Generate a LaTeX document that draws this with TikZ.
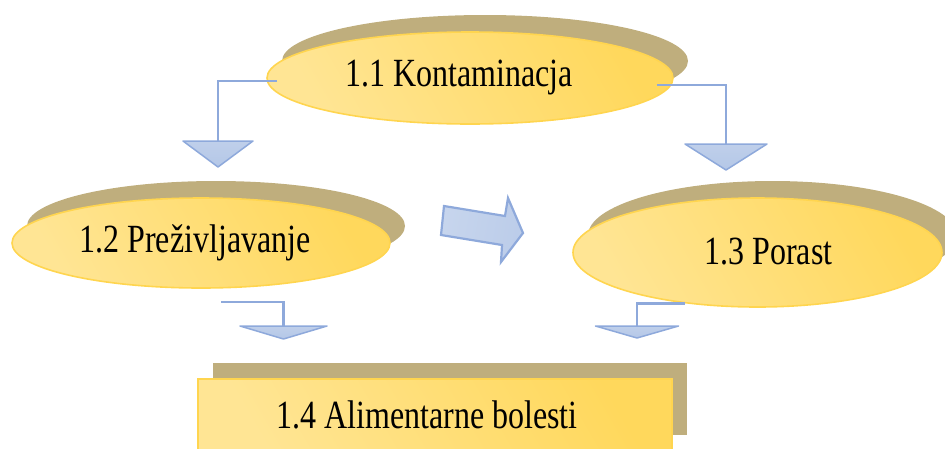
\documentclass[tikz,border=0pt]{standalone}
\usepackage{fontspec}
\setmainfont{Liberation Serif}
\usepackage{graphicx}
\usetikzlibrary{shapes.geometric,shadows}
\definecolor{shadowtan}{HTML}{BFAE7D}
\definecolor{goldline}{HTML}{FFD54F}
\definecolor{goldlight}{HTML}{FFF4D2}
\definecolor{goldmid}{HTML}{FFE594}
\definecolor{golddark}{HTML}{FFD85C}
\definecolor{blueline}{HTML}{8EA9DB}
\definecolor{bluefill}{HTML}{B4C7E7}
\definecolor{bluelight}{HTML}{DFE7F6}
\newcommand{\tallText}[1]{\scalebox{1}[1.25]{#1}}
\begin{document}
\begin{tikzpicture}[x=1pt,y=-1pt,
  goldfill/.style={draw=goldline, line width=1.6pt, left color=goldmid, middle color=goldlight, right color=golddark, shading angle=120},
  oval/.style={ellipse, goldfill, inner sep=0pt, font=\fontsize{32}{38}\selectfont,
     general shadow={fill=shadowtan, shadow xshift=15pt, shadow yshift=17pt}},
  box/.style={rectangle, goldfill, inner sep=0pt, font=\fontsize{32}{38}\selectfont,
     general shadow={fill=shadowtan, shadow xshift=15pt, shadow yshift=16pt}},
  conn/.style={draw=blueline, line width=2.7pt},
  tri/.style={draw=blueline, line width=1.5pt, line join=round, top color=bluefill!85!white, bottom color=bluefill},
  blockarrow/.style={draw=blueline, line width=2.2pt, line join=miter, left color=bluefill!75!white, middle color=bluelight, right color=bluefill!90!white, shading angle=80}
]
\useasboundingbox (0,0) rectangle (945,448);

% main shapes
\node[oval, minimum width=406pt, minimum height=92pt] (n11) at (470,78)
  {\tallText{1.1 Kontaminacja}\hspace*{22pt}};
\node[oval, minimum width=378pt, minimum height=90pt] (n12) at (201,243)
  {\tallText{1.2 Preživljavanje}\hspace*{12pt}};
\node[oval, minimum width=369pt, minimum height=109pt] (n13) at (757.5,252.5)
  {\hspace*{22pt}\raisebox{3pt}{\tallText{1.3 Porast}}};
\node[box, minimum width=474pt, minimum height=72pt] (n14) at (435,415)
  {\tallText{1.4 Alimentarne bolesti}\hspace*{16pt}};

% arrow heads positions
\coordinate (t1) at (218,141);
\coordinate (t2) at (726,144);
\coordinate (s3) at (221,302);
\coordinate (t3) at (283.5,326);
\coordinate (t4) at (637,326);

% connectors
\draw[conn] ([xshift=11pt,yshift=-3pt]n11.west) -| (t1);
\draw[conn] ([xshift=-17pt,yshift=-7pt]n11.east) -| (t2);
\draw[conn] (s3) -| (t3);
\draw[conn] (n13.215.5) -| (t4);

% triangular heads
\path[tri] ([xshift=-35pt]t1) -- ([xshift=35pt]t1) -- ([yshift=-26pt]t1) -- cycle;
\path[tri] ([xshift=-41pt]t2) -- ([xshift=41pt]t2) -- ([yshift=-26pt]t2) -- cycle;
\path[tri] ([xshift=-43.5pt]t3) -- ([xshift=43.5pt]t3) -- ([yshift=-13pt]t3) -- cycle;
\path[tri] ([xshift=-41.5pt]t4) -- ([xshift=41.5pt]t4) -- ([yshift=-12pt]t4) -- cycle;

% block arrow between 1.2 and 1.3
\path[blockarrow] (444,206) -- (505,216) -- (508,198) -- (523,233) -- (501,262) -- (502,245) -- (441,235) -- cycle;
\end{tikzpicture}
\end{document}
